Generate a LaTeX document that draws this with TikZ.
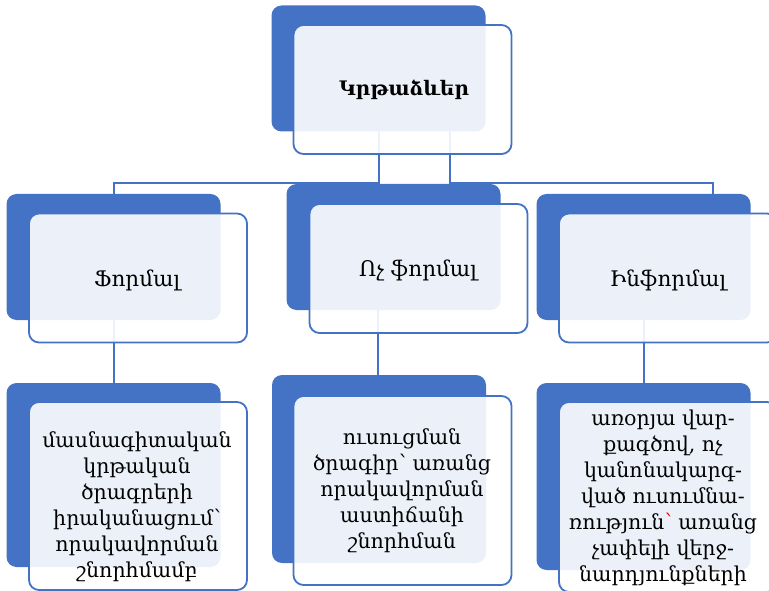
\documentclass[tikz,border=0pt]{standalone}
\usepackage{fontspec}
\setmainfont{DejaVu Serif}
\definecolor{accent}{HTML}{4472C4}
\tikzset{
  backbox/.style={fill=accent, rounded corners=10pt, inner sep=0pt, minimum width=214pt, minimum height=126pt},
  frontbox/.style={draw=accent, line width=1.8pt, fill=white, fill opacity=0.9, rounded corners=10pt, inner sep=0pt, minimum width=218pt, minimum height=129pt},
  label/.style={align=center, inner sep=0pt, font=\fontsize{20.5}{26}\selectfont},
  title/.style={align=center, inner sep=0pt, font=\fontsize{21.5}{26}\selectfont},
  link/.style={draw=accent, line width=2pt}
}
\begin{document}
\begin{tikzpicture}[x=1pt,y=-1pt]
\useasboundingbox (0,0) rectangle (769,591);
% back boxes
\node[backbox] (topB) at (378.5,68.5) {};
\node[backbox] (lB) at (113.5,257) {};
\node[backbox] (mB) at (393.5,247) {};
\node[backbox] (rB) at (643.5,257) {};
\node[backbox, minimum height=184pt] (lbB) at (113.5,475) {};
\node[backbox, minimum height=188pt] (mbB) at (379,469) {};
\node[backbox, minimum height=187pt] (rbB) at (643.5,476.5) {};
% connectors
\coordinate (hl) at (0,183);
\coordinate (jr) at (713,183);
\draw[link] (topB.south) -- (topB.south |- hl) -| (lB.north);
\draw[link] ([xshift=71pt]topB.south) -- ([xshift=71pt]topB.south |- hl) -- (jr) -- (jr |- rB.north);
\draw[link] (lB.south) -- (lbB.north);
\draw[link] ([xshift=-16pt]mB.south) -- ([xshift=-16pt]mB.south |- mbB.north);
\draw[link] (rB.south) -- (rbB.north);
% front boxes
\node[frontbox] (topF) at (402.5,89.5) {};
\node[frontbox] (lF) at (138,278) {};
\node[frontbox] (mF) at (418.5,268.5) {};
\node[frontbox] (rF) at (668,278) {};
\node[frontbox, minimum height=188pt] (lbF) at (138,496) {};
\node[frontbox, minimum height=189pt] (mbF) at (402.5,490.5) {};
\node[frontbox, minimum height=190pt] (rbF) at (668,497) {};
% texts
\node[label, font=\fontsize{20}{26}\selectfont\bfseries] (t0) at (404,90) {Կրթաձևեր};
\node[title] (t1) at (137,280) {Ֆորմալ};
\node[title] (t2) at (418,270) {Ոչ ֆորմալ};
\node[title] (t3) at (668,280) {Ինֆորմալ};
\node[label] (t4) at (137,507) {մասնագիտական\\կրթական\\ծրագրերի\\իրականացում՝\\որակավորման\\շնորհմամբ};
\node[label] (t5) at (402,491) {ուսուցման\\ծրագիր՝ առանց\\որակավորման\\աստիճանի\\շնորհման};
\node[label] (t6) at (663,498) {առօրյա վար-\\քագծով, ոչ\\կանոնակարգ-\\ված ուսումնա-\\ռություն{\color{red}՝} առանց\\չափելի վերջ-\\նարդյունքների};
\end{tikzpicture}
\end{document}
